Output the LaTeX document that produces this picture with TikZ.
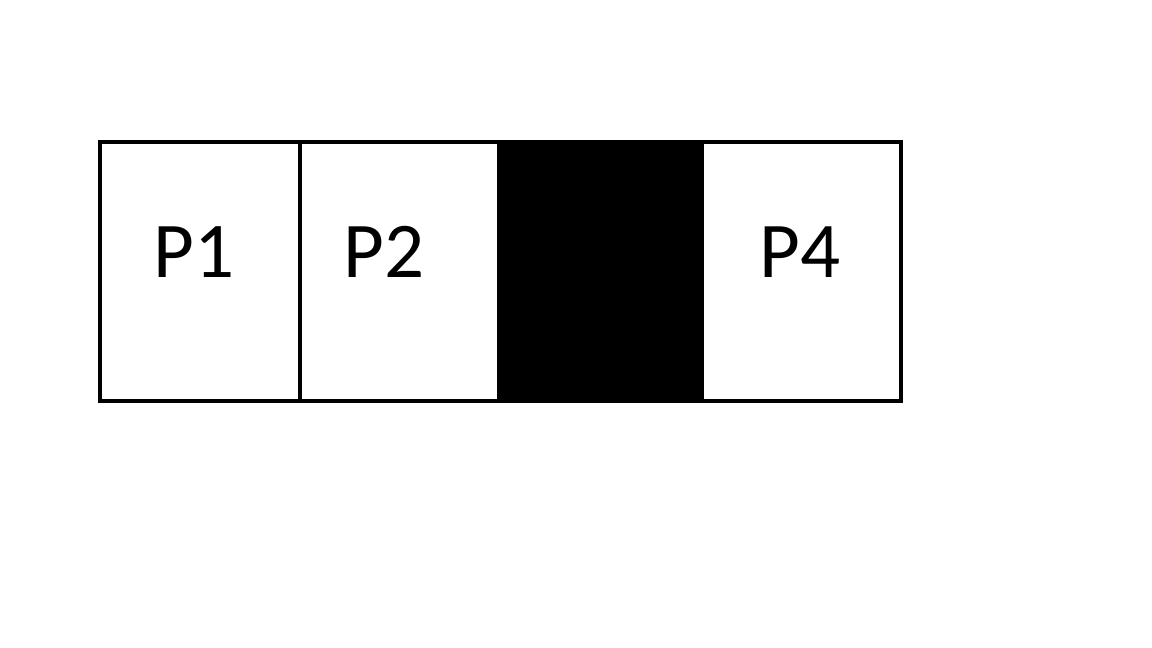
\documentclass[tikz,border=0pt]{standalone}
\usepackage{fontspec}
\setmainfont{Carlito}
\begin{document}
\begin{tikzpicture}[x=1pt,y=-1pt,
  cell/.style={draw=black,line width=3.5pt,minimum height=259pt,inner sep=0pt,outer sep=0pt},
  lbl/.style={anchor=base,inner sep=0pt,font=\fontsize{79}{90}\selectfont}]
\useasboundingbox (0,0) rectangle (1152,648);
\node[cell,minimum width=200pt] (c1) at (200,271.5) {};
\node[cell,minimum width=200pt] (c2) at (400,271.5) {};
\node[cell,minimum width=203pt,fill=black] (c3) at (600.5,271.5) {};
\node[cell,minimum width=199pt] (c4) at (801.5,271.5) {};
\draw[line width=3.5pt] (100,142) rectangle (901,401);
\fill[black] (499,140) rectangle (703,403);
\node[lbl] (t1) at (194,277) {P1};
\node[lbl] (t2) at (384,277) {P2};
\node[lbl] (t4) at (800,277) {P4};
\end{tikzpicture}
\end{document}
